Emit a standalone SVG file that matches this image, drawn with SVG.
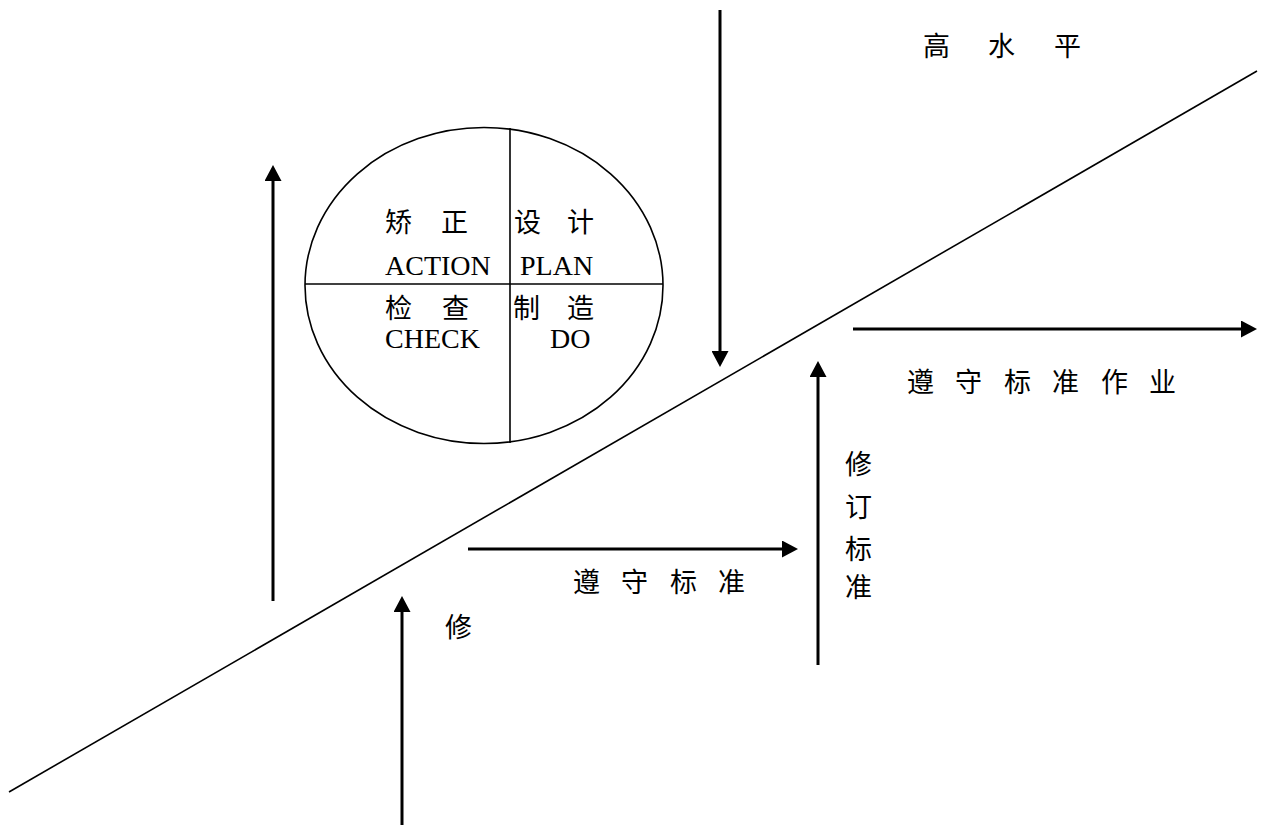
<svg xmlns="http://www.w3.org/2000/svg" width="1261" height="825" viewBox="0 0 1261 825">
<style>
text{font-family:"Liberation Serif","Noto Sans CJK SC",serif;font-size:27px;fill:#000}
.lat{font-size:28px}
.arr{stroke:#000;stroke-width:3;fill:none;marker-end:url(#ah)}
.thin{stroke:#000;stroke-width:1.6;fill:none}
</style>
<defs>
<marker id="ah" markerUnits="userSpaceOnUse" markerWidth="16" markerHeight="17" refX="2" refY="8.5" orient="auto" viewBox="0 0 16 17">
<path d="M0,0 L16,8.5 L0,17 Z" fill="#000"/>
</marker>
</defs>
<rect width="1261" height="825" fill="#fff"/>
<g id="connectors">
<line class="thin" x1="9" y1="792" x2="1257" y2="71"/>
<line class="arr" x1="273" y1="601" x2="273" y2="179"/>
<line class="arr" x1="720" y1="10" x2="720" y2="353"/>
<line class="arr" x1="853" y1="329" x2="1243" y2="329"/>
<line class="arr" x1="818" y1="665" x2="818" y2="375"/>
<line class="arr" x1="468" y1="549" x2="784" y2="549"/>
<line class="arr" x1="402" y1="825" x2="402" y2="610"/>
</g>
<g id="pdca">
<ellipse class="thin" cx="484" cy="285.5" rx="179" ry="158"/>
<line class="thin" x1="510" y1="128" x2="510" y2="443"/>
<line class="thin" x1="305" y1="284" x2="663" y2="284"/>
<text x="385 441" y="232">矫正</text>
<text class="lat" x="385" y="275">ACTION</text>
<text x="514 567" y="232">设计</text>
<text class="lat" x="520" y="275">PLAN</text>
<text x="385 442" y="318">检查</text>
<text class="lat" x="385" y="348">CHECK</text>
<text x="513 567" y="318">制造</text>
<text class="lat" x="550" y="348">DO</text>
</g>
<g id="label-high">
<text x="923 988 1054" y="56">高水平</text>
</g>
<g id="label-standard-work">
<text x="907 955 1004 1052 1101 1149" y="392">遵守标准作业</text>
</g>
<g id="label-revise-standard">
<text x="845" y="474">修</text>
<text x="845" y="517">订</text>
<text x="845" y="559">标</text>
<text x="845" y="597">准</text>
</g>
<g id="label-follow-standard">
<text x="573 621 670 718" y="592">遵守标准</text>
</g>
<g id="label-revise">
<text x="445" y="637">修</text>
</g>
</svg>
